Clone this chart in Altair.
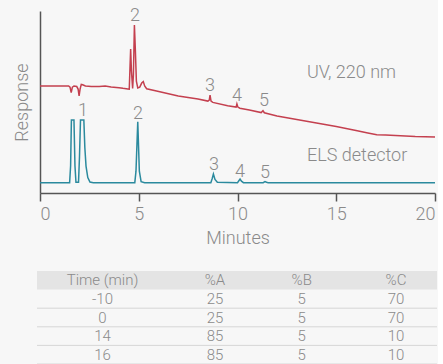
import altair as alt
import pandas as pd

# --- Chromatogram traces: retention time (min) and detector response ---
uv_time = [0.0, 1.45, 1.52, 1.58, 1.64, 1.72, 1.86, 1.93, 1.98, 2.03, 2.09, 2.16, 2.3, 2.6,
           3.0, 3.3, 3.6, 4.0, 4.2, 4.45, 4.52, 4.56, 4.59, 4.63, 4.69, 4.73, 4.78, 4.83,
           4.88, 4.95, 5.05, 5.15, 5.23, 5.3, 5.4, 5.9, 7.0, 8.0, 8.5, 8.57, 8.61, 8.66,
           8.75, 9.5, 9.93, 9.97, 10.02, 10.12, 10.6, 11.2, 11.29, 11.36, 11.6, 12.0, 13.0,
           14.0, 15.0, 16.0, 16.6, 17.05, 17.5, 18.0, 19.0, 20.0]
uv_resp = [58.8, 58.8, 58.2, 55.1, 58.2, 58.8, 58.5, 57.1, 53.3, 57.1, 59.7, 59.5, 58.8, 58.5,
           58.5, 58.8, 58.3, 57.8, 57.5, 57.2, 57.1, 70.0, 79.1, 67.0, 57.5, 65.0, 92.3, 78.0,
           61.5, 57.7, 58.2, 60.4, 61.2, 58.8, 57.3, 56.0, 53.3, 51.6, 50.5, 51.0, 53.8, 50.5,
           49.8, 47.9, 47.2, 49.0, 47.2, 46.6, 45.6, 44.2, 45.2, 44.1, 43.4, 42.3, 40.4,
           38.5, 36.5, 34.3, 33.0, 32.0, 31.8, 31.6, 31.0, 30.8]

els_time = [0.0, 1.5, 1.55, 1.59, 1.72, 1.77, 1.82, 1.95, 2.0, 2.05, 2.22, 2.27, 2.33, 2.42,
            2.53, 2.7, 4.8, 4.86, 4.95, 5.03, 5.12, 5.3, 8.65, 8.72, 8.78, 8.86, 8.98, 10.0,
            10.06, 10.13, 10.2, 10.3, 11.3, 11.39, 11.47, 11.55, 20.0]
els_resp = [5.7, 5.7, 15.0, 40.1, 40.1, 15.0, 5.9, 5.9, 20.0, 40.1, 40.1, 25.0, 14.8, 8.5,
            6.0, 5.7, 5.7, 12.0, 39.2, 12.0, 6.2, 5.7, 5.7, 8.0, 10.4, 7.5, 5.9, 5.7,
            6.6, 7.7, 6.5, 5.7, 5.7, 6.3, 5.9, 5.7, 5.7]

# --- Peak annotations ---
uv_peak_ids = ["2", "3", "4", "5"]
uv_peak_time = [4.81, 8.61, 9.97, 11.34]
uv_peak_resp = [97.3, 58.8, 53.3, 50.5]

els_peak_ids = ["1", "2", "3", "4", "5"]
els_peak_time = [2.18, 4.96, 8.81, 10.13, 11.39]
els_peak_resp = [45.1, 43.4, 15.4, 11.5, 11.0]

trace_names = ["UV, 220 nm", "ELS detector"]
trace_label_time = [13.52, 13.52]
trace_label_resp = [66.0, 20.3]

# --- Gradient program ---
header = ["Time (min)", "%A", "%B", "%C"]
grad_time = [-10, 0, 14, 16]
pct_a = [25, 25, 85, 85]
pct_b = [5, 5, 5, 5]
pct_c = [70, 70, 10, 10]

RED = "#c4404f"
TEAL = "#2b8a9e"
GREY_TEXT = "#8a8a8a"
FONT = "Roboto"

series_scale = alt.Scale(domain=trace_names, range=[RED, TEAL])

traces = pd.concat([
    pd.DataFrame({"t": uv_time, "r": uv_resp, "series": trace_names[0]}),
    pd.DataFrame({"t": els_time, "r": els_resp, "series": trace_names[1]}),
])

peaks = pd.concat([
    pd.DataFrame({"t": uv_peak_time, "r": uv_peak_resp, "label": uv_peak_ids}),
    pd.DataFrame({"t": els_peak_time, "r": els_peak_resp, "label": els_peak_ids}),
])

names = pd.DataFrame({"t": trace_label_time, "r": trace_label_resp, "label": trace_names})

x_enc = alt.X("t:Q", scale=alt.Scale(domain=[0, 20], nice=False),
              axis=alt.Axis(values=[0, 5, 10, 15, 20], title="Minutes",
                            labelPadding=4, titlePadding=6))
y_enc = alt.Y("r:Q", scale=alt.Scale(domain=[0, 100], nice=False),
              axis=alt.Axis(title="Response", labels=False, ticks=False, titlePadding=9))

lines = alt.Chart(traces).mark_line(strokeWidth=1.5, interpolate="linear").encode(
    x=x_enc, y=y_enc,
    color=alt.Color("series:N", scale=series_scale, legend=None),
    order=alt.Order("t:Q"),
)

peak_text = alt.Chart(peaks).mark_text(
    font=FONT, fontSize=18, fontWeight=300, color=GREY_TEXT, baseline="middle", align="center"
).encode(x="t:Q", y="r:Q", text="label:N")

name_text = alt.Chart(names).mark_text(
    font=FONT, fontSize=18, fontWeight=300, color=GREY_TEXT, baseline="middle", align="left"
).encode(x="t:Q", y="r:Q", text="label:N")

chromatogram = alt.layer(lines, peak_text, name_text).properties(width=395, height=182)

# --- Table ---
# column centres along the table width (table units, 0..400)
COL_CENTER = [65.5, 178, 264.7, 359]
cells = []
for j, h in enumerate(header):
    cells.append({"cx": COL_CENTER[j], "row": 0.5, "text": h})
for i in range(len(grad_time)):
    for j, v in enumerate([grad_time[i], pct_a[i], pct_b[i], pct_c[i]]):
        cells.append({"cx": COL_CENTER[j], "row": i + 1.5, "text": str(v)})
cells = pd.DataFrame(cells)

tx = alt.Scale(domain=[3, 400], nice=False, zero=False)
ty = alt.Scale(domain=[0, 5], nice=False, zero=False, reverse=True)

band = alt.Chart(pd.DataFrame({"x0": [0], "x1": [400], "y0": [0], "y1": [1]})).mark_rect(
    color="#e4e4e4"
).encode(x=alt.X("x0:Q", scale=tx, axis=None), x2="x1:Q",
         y=alt.Y("y0:Q", scale=ty, axis=None), y2="y1:Q")

rules = alt.Chart(pd.DataFrame({"x0": 0, "x1": 400, "y": [2, 3, 4, 5]})).mark_rule(
    color="#d6d6d6", strokeWidth=1
).encode(x=alt.X("x0:Q", scale=tx, axis=None), x2="x1:Q",
         y=alt.Y("y:Q", scale=ty, axis=None))

cell_text = alt.Chart(cells).mark_text(
    font=FONT, fontSize=15, fontWeight=300, color=GREY_TEXT, baseline="middle", align="center"
).encode(x=alt.X("cx:Q", scale=tx, axis=None), y=alt.Y("row:Q", scale=ty, axis=None),
         text="text:N")

table = alt.layer(band, rules, cell_text).properties(width=397, height=93)

chart = alt.vconcat(chromatogram, table, spacing=24).properties(
    padding={"left": 13, "top": 6, "right": 0, "bottom": 0},
    background="#f7f7f7",
).configure_view(strokeWidth=0).configure_axis(
    grid=False,
    domainColor="#555555", domainWidth=1.5,
    tickColor="#555555", tickWidth=1.5, tickSize=8,
    labelFont=FONT, labelFontSize=18, labelFontWeight=300, labelColor=GREY_TEXT,
    titleFont=FONT, titleFontSize=18, titleFontWeight=300, titleColor=GREY_TEXT,
)

chart.save("out.html", embed_options={"renderer": "svg", "actions": False})
